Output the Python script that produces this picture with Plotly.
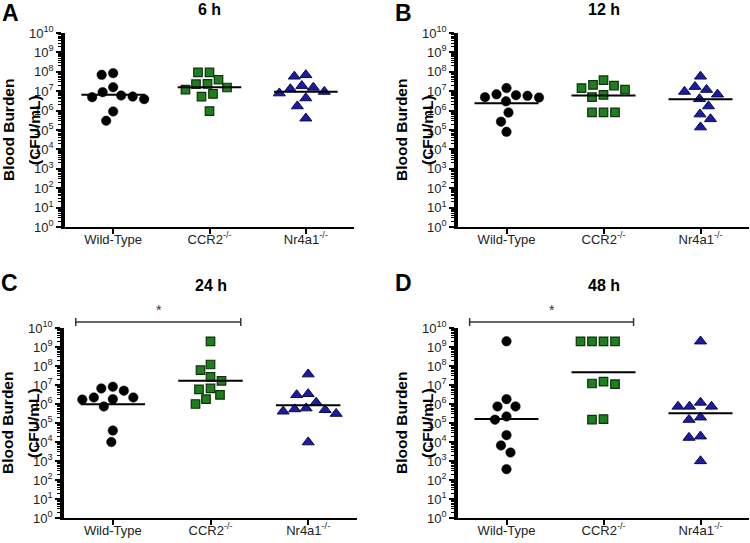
import math
import plotly.graph_objects as go

# ---------------- data ----------------
groups = ["Wild-Type", "CCR2<sup>-/-</sup>", "Nr4a1<sup>-/-</sup>"]
panel_titles = ["6 h", "12 h", "24 h", "48 h"]
panel_letters = ["A", "B", "C", "D"]

A_wt = [8.5e7, 7e7, 1.6e7, 6e6, 4.9e6, 3.9e6, 5.3e6, 8.9e6, 9e5, 3e5]
A_ccr2 = [9.3e7, 9.3e7, 3.9e7, 2.4e7, 1.55e7, 2.3e7, 1.2e7, 7.2e6, 5.2e6, 9.5e5]
A_nr4a1 = [6.9e7, 5.8e7, 1.9e7, 1.3e7, 1.55e7, 9.5e6, 7.9e6, 4.4e6, 1.7e6, 4e5]
A_median = [6.5e6, 1.6e7, 9.5e6]

B_wt = [6.9e6, 5.8e6, 4.7e6, 4.9e6, 6.2e6, 1.45e7, 3e6, 7.9e5, 2.7e5, 8.1e4]
B_ccr2 = [3.7e7, 2.1e7, 1.95e7, 1.45e7, 1.2e7, 6.5e6, 4.9e6, 8.1e5, 8.1e5, 8.1e5]
B_nr4a1 = [5.8e7, 1.7e7, 1.2e7, 9.5e6, 6.9e6, 4e6, 1.7e6, 6.5e5, 3.7e5, 1.4e5]
B_median = [2.4e6, 6e6, 3.9e6]

C_wt = [6.6e6, 8.1e6, 5e6, 2.2e6, 1.8e6, 2.2e6, 1.7e6, 7.4e5, 4e4, 1e4]
C_ccr2 = [2e9, 1.2e8, 6e7, 2.7e7, 1.65e7, 6.6e6, 5.9e6, 3e6, 1.8e6, 1e6]
C_nr4a1 = [3.7e7, 3.4e6, 3e6, 1.2e6, 5.4e5, 4.1e5, 3.1e5, 4.9e5, 6e5, 9.8e3]
C_median = [9.8e5, 1.65e7, 8.7e5]

D_wt = [2e9, 1.8e6, 7.4e5, 7.4e5, 2.2e5, 1.5e5, 2.3e4, 6.6e3, 2.8e3, 3.7e2]
D_ccr2 = [2e9, 2e9, 2e9, 2e9, 1.2e7, 1.1e7, 1.5e7, 1.5e5, 1.6e5]
D_nr4a1 = [2e9, 1.2e6, 7.4e5, 7.4e5, 7.4e5, 1.5e5, 2e5, 2e4, 1.7e4, 1e3]
D_median = [1.6e5, 4.7e7, 3.3e5]

ytick_vals = [10 ** n for n in range(0, 11)]
ytick_text = ["10<sup>%d</sup>" % n for n in range(0, 11)]
significance = ["", "", "*", "*"]

panels = [
    [A_wt, A_ccr2, A_nr4a1, A_median],
    [B_wt, B_ccr2, B_nr4a1, B_median],
    [C_wt, C_ccr2, C_nr4a1, C_median],
    [D_wt, D_ccr2, D_nr4a1, D_median],
]

# ---------------- layout geometry (pixels) ----------------
W, H = 750, 543
FONT = "Arial, Liberation Sans, sans-serif"
# (left, right, top, bottom) of each plot area in pixels
boxes = [
    (65, 354, 33, 227),
    (458, 749, 33, 227),
    (64, 357, 328, 518),
    (458, 749, 328, 518),
]
# vertical pixel position of panel title / letter centres
title_y = [10, 10, 285, 285]
letter_y = [13, 13, 283, 283]


def px_x(x):
    return x / W


def px_y(y):
    return 1 - y / H


styles = [
    dict(symbol="circle", size=9.5, color="black", line=dict(color="black", width=0.5)),
    dict(symbol="square", size=8.5, color="#1f7f1f", line=dict(color="#0d300d", width=1.2)),
    dict(symbol="triangle-up", size=10.5, color="#1c1ca0", line=dict(color="#0b0b50", width=1)),
]


def swarm(vals, ppd, ppc, d=11.5):
    """Greedy beeswarm: horizontal offsets (category units) so markers don't overlap."""
    ys = [math.log10(v) * ppd for v in vals]
    order = sorted(range(len(vals)), key=lambda i: -ys[i])
    placed = []
    xs = [0.0] * len(vals)
    for i in order:
        y = ys[i]
        best = None
        step = 0
        while best is None:
            for sgn in (-1, 1):
                x = sgn * step * 0.5
                if all((x - px) ** 2 + (y - py) ** 2 >= d * d for px, py in placed):
                    best = x
                    break
            step += 1
        placed.append((best, y))
        xs[i] = best / ppc
    return xs


minor_vals = [k * 10 ** n for n in range(0, 10) for k in range(2, 10)]

fig = go.Figure()
layout = dict(
    template="none",
    width=W, height=H, margin=dict(l=0, r=0, t=0, b=0, pad=0), autosize=False,
    paper_bgcolor="white", plot_bgcolor="white", showlegend=False,
    font=dict(family=FONT, color="#222"),
)
annotations = []
shapes = []

for p, (data, box) in enumerate(zip(panels, boxes)):
    idx = "" if p == 0 else str(p + 1)
    xa, ya = "x" + idx, "y" + idx
    left, right, top, bottom = box
    ppd = (bottom - top) / 10.0
    ppc = (right - left) / 3.0
    series = data[:3]
    medians = data[3]
    for g, vals in enumerate(series):
        offs = swarm(vals, ppd, ppc)
        fig.add_trace(go.Scatter(
            x=[g + o for o in offs], y=vals, mode="markers",
            marker=styles[g], xaxis=xa, yaxis=ya, hoverinfo="skip"))
    for g, m in enumerate(medians):
        fig.add_trace(go.Scatter(
            x=[g - 0.33, g + 0.33], y=[m, m], mode="lines",
            line=dict(color="black", width=2), xaxis=xa, yaxis=ya, hoverinfo="skip"))

    layout["xaxis" + idx] = dict(
        domain=[px_x(left), px_x(right)], range=[-0.5, 2.5], anchor=ya,
        tickvals=[0, 1, 2], ticktext=groups, showline=True, linecolor="black",
        linewidth=2, ticks="outside", ticklen=5, tickwidth=2, tickcolor="black",
        tickfont=dict(size=13, family=FONT, color="#222"), ticklabelstandoff=-6,
        automargin=False, showgrid=False, zeroline=False, fixedrange=True)
    layout["yaxis" + idx] = dict(
        domain=[px_y(bottom), px_y(top)], type="log", range=[0, 10], anchor=xa,
        tickvals=ytick_vals, ticktext=ytick_text, showline=True, linecolor="black",
        linewidth=3.5, ticks="outside", ticklen=5, tickwidth=2, tickcolor="black",
        tickfont=dict(size=13, family=FONT, color="#222"),
        minor=dict(tickvals=minor_vals, ticks="outside", ticklen=3, tickwidth=1,
                   tickcolor="black", showgrid=False),
        automargin=False, showgrid=False, zeroline=False, fixedrange=True)

    # panel title
    annotations.append(dict(
        text="<b>%s</b>" % panel_titles[p], x=px_x((left + right) / 2), y=px_y(title_y[p]),
        xref="paper", yref="paper", showarrow=False, xanchor="center", yanchor="middle",
        font=dict(size=16, family=FONT, color="black")))
    # panel letter
    annotations.append(dict(
        text="<b>%s</b>" % panel_letters[p], x=px_x(left - 65),
        y=px_y(letter_y[p]), xref="paper", yref="paper", showarrow=False,
        xanchor="left", yanchor="middle", font=dict(size=23, family=FONT, color="black")))
    # y-axis title (two lines)
    for txt, dx in (("Blood Burden", -57), ("(CFU/mL)", -31)):
        annotations.append(dict(
            text="<b>%s</b>" % txt, x=px_x(left + dx), y=px_y((top + bottom) / 2),
            xref="paper", yref="paper", showarrow=False, textangle=-90,
            xanchor="center", yanchor="middle",
            font=dict(size=15.5, family=FONT, color="black")))

    if significance[p]:
        yb = px_y(top - 6)
        shapes.append(dict(type="line", xref=xa, yref="paper", x0=-0.38, x1=1.31,
                           y0=yb, y1=yb, line=dict(color="#333", width=1.5)))
        for xe in (-0.38, 1.31):
            shapes.append(dict(type="line", xref=xa, yref="paper", x0=xe, x1=xe,
                               y0=px_y(top - 10), y1=px_y(top - 2),
                               line=dict(color="#333", width=1.5)))
        annotations.append(dict(
            text=significance[p], x=0.47, y=px_y(top - 18), xref=xa, yref="paper",
            showarrow=False, xanchor="center", yanchor="middle",
            font=dict(size=14, family=FONT, color="#333")))

layout["annotations"] = annotations
layout["shapes"] = shapes
fig.update_layout(**layout)
fig.write_html("out.html", config={"displayModeBar": False},
               post_script="document.body.style.margin='0';document.body.style.overflow='hidden';")
